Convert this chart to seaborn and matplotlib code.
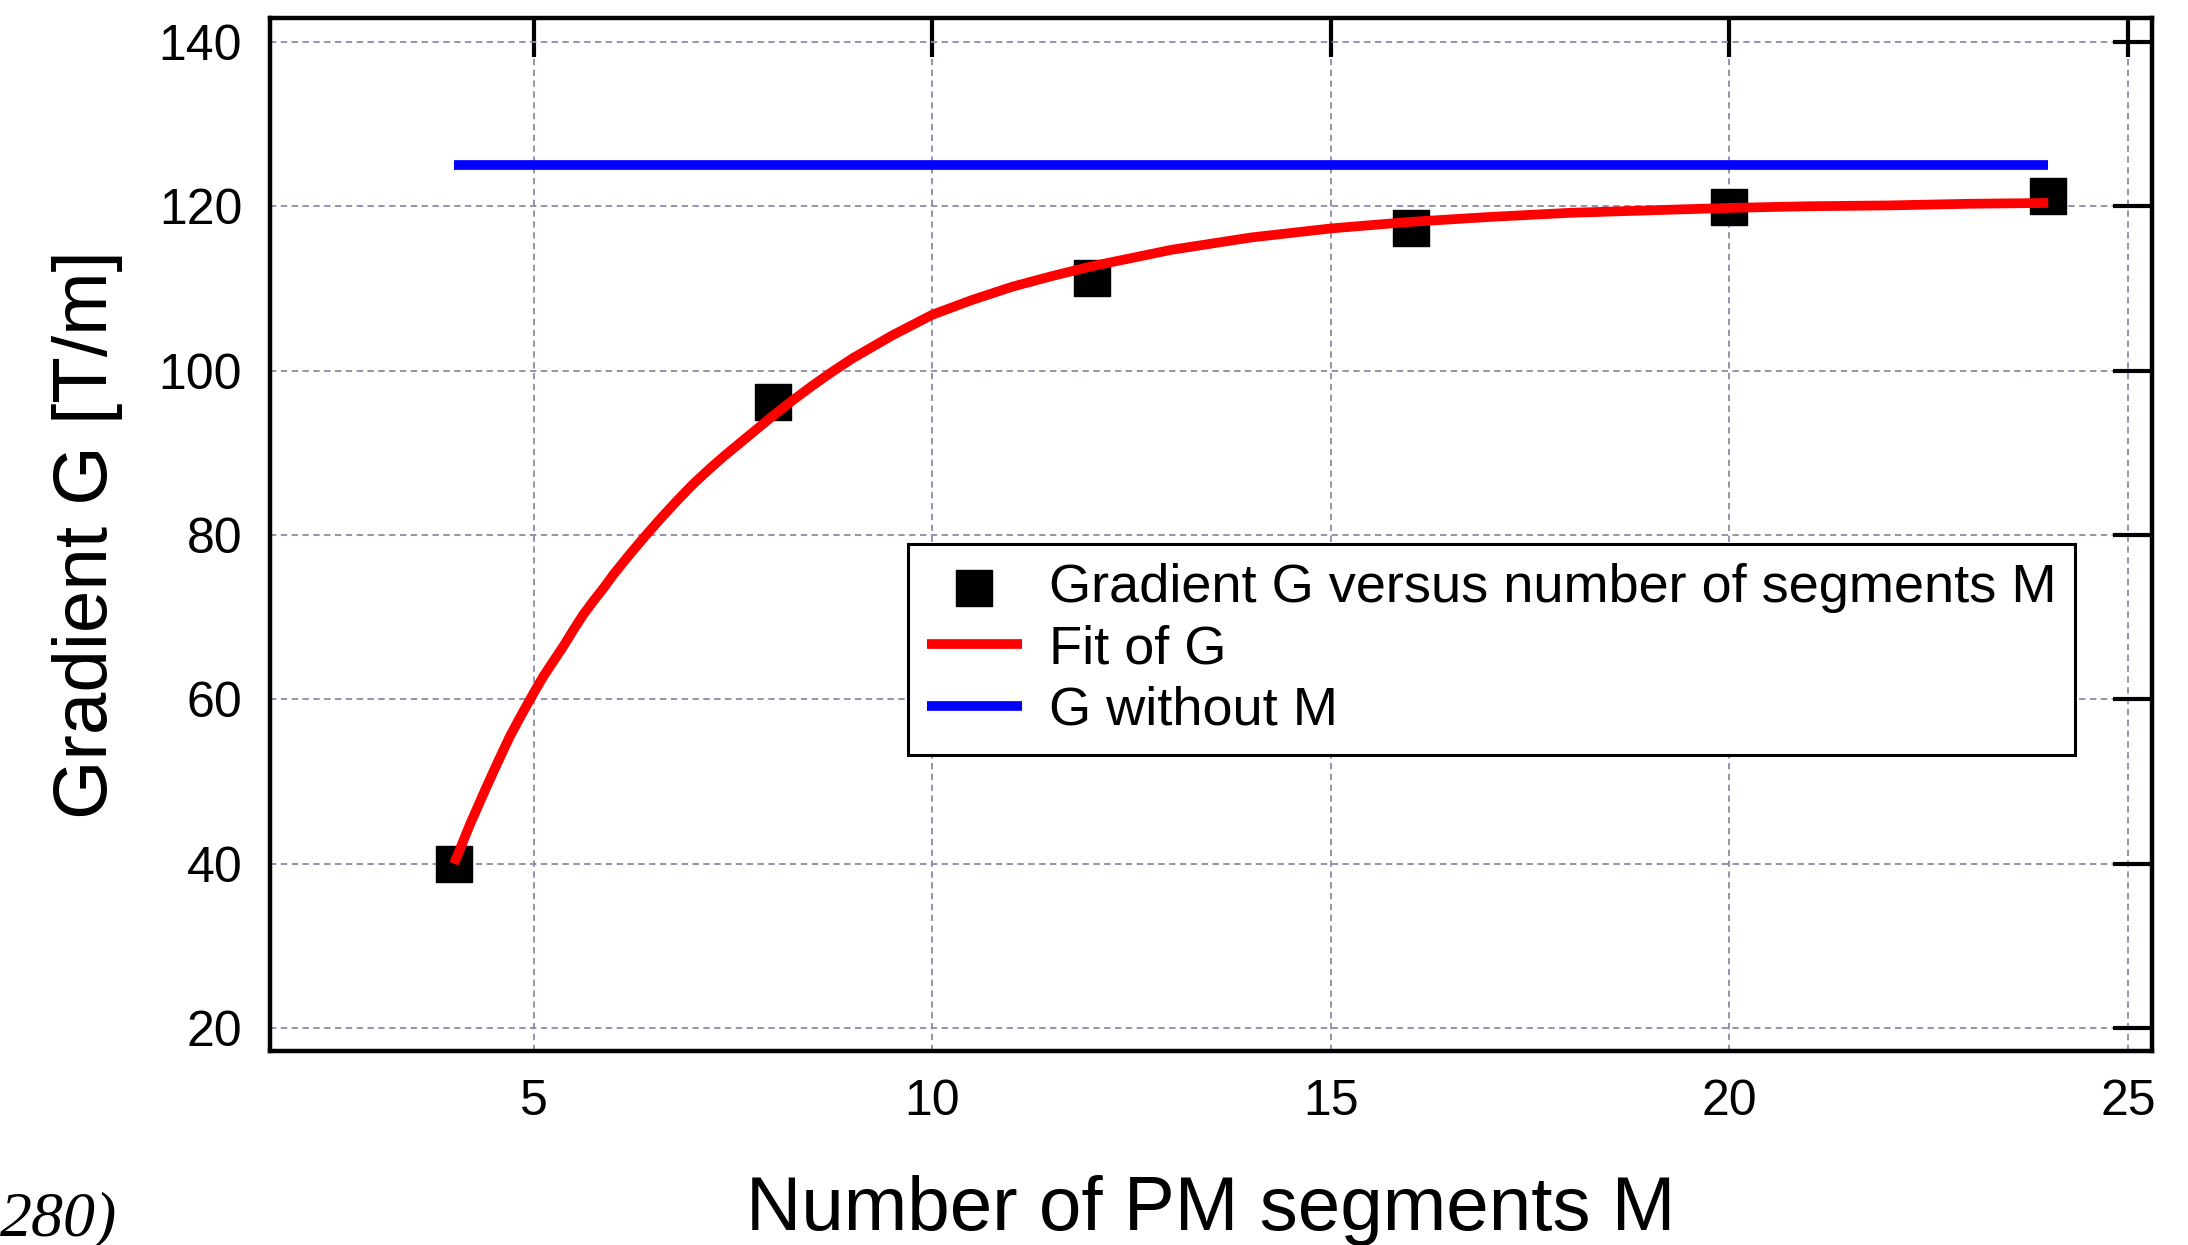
import matplotlib
matplotlib.use("Agg")
import matplotlib.pyplot as plt
import seaborn as sns

# ---------------- data ----------------
segments_m = [4, 8, 12, 16, 20, 24]
gradient_g = [40.0, 96.2, 111.3, 117.4, 119.9, 121.2]

fit_m = [4.0, 4.1, 4.2, 4.3, 4.4, 4.55, 4.7, 4.85, 5.0, 5.12, 5.25, 5.38, 5.5,
         5.62, 5.75, 5.88, 6.0, 6.2, 6.4, 6.6, 6.8, 7.0, 7.2, 7.4, 7.6, 7.8, 8.0,
         8.25, 8.5, 8.75, 9.0, 9.5, 10, 10.5, 11, 11.5, 12, 13, 14, 15, 16, 17,
         18, 19, 20, 21, 22, 23, 24]
fit_g = [40.0, 42.4, 44.8, 47.0, 49.2, 52.4, 55.5, 58.2, 60.8, 62.8, 64.7, 66.6,
         68.5, 70.3, 72.0, 73.6, 75.2, 77.6, 79.9, 82.1, 84.2, 86.2, 88.0, 89.7,
         91.3, 92.9, 94.5, 96.4, 98.2, 99.9, 101.5, 104.3, 106.8, 108.6, 110.2,
         111.5, 112.7, 114.7, 116.2, 117.3, 118.1, 118.7, 119.2, 119.5, 119.8,
         120.0, 120.1, 120.3, 120.4]

nominal_m = [4, 24]
nominal_g = [125, 125]

x_ticks = [5, 10, 15, 20, 25]
y_ticks = [20, 40, 60, 80, 100, 120, 140]

label_points = "Gradient G versus number of segments M"
label_fit = "Fit of G"
label_nominal = "G without M"
x_label = "Number of PM segments M"
y_label = "Gradient G [T/m]"

# ---------------- style ----------------
sns.set_style("white")
plt.rcParams["font.family"] = ["Liberation Sans", "DejaVu Sans"]
plt.rcParams["text.color"] = "black"
plt.rcParams["axes.labelcolor"] = "black"
plt.rcParams["xtick.color"] = "black"
plt.rcParams["ytick.color"] = "black"

fig = plt.figure(figsize=(21.88, 12.45), dpi=100)
ax = fig.add_axes([0.1234, 0.1558, 0.9835 - 0.1234, 0.9855 - 0.1558])

grid_kw = dict(color="#8a8aa8", linewidth=1.3, linestyle=(0, (3.5, 2.5)), zorder=0)
ax.set_axisbelow(True)

sns.scatterplot(x=segments_m, y=gradient_g, marker="s", s=26 ** 2, color="black",
                edgecolor="black", linewidth=1, label=label_points, ax=ax, zorder=3)
sns.lineplot(x=fit_m, y=fit_g, color="#ff0000", linewidth=7, label=label_fit,
             ax=ax, zorder=4, estimator=None, solid_capstyle="butt",
             solid_joinstyle="round")
sns.lineplot(x=nominal_m, y=nominal_g, color="#0000ff", linewidth=7,
             label=label_nominal, ax=ax, zorder=4, estimator=None,
             solid_capstyle="butt")

ax.set_xlim(1.69, 25.3)
ax.set_ylim(17.2, 142.9)
ax.set_xticks(x_ticks)
ax.set_yticks(y_ticks)
ax.grid(True, **grid_kw)

for sp in ax.spines.values():
    sp.set_visible(True)
    sp.set_linewidth(3.2)
    sp.set_color("black")

ax.tick_params(direction="in", length=28, width=3, top=True, right=True,
               labelsize=36, colors="black", labelcolor="black", pad=20)

ax.set_xlabel(x_label, fontsize=55, labelpad=36, color="black")
ax.set_ylabel(y_label, fontsize=55, labelpad=26, color="black")

handles, labels = ax.get_legend_handles_labels()
order = [labels.index(label_points), labels.index(label_fit), labels.index(label_nominal)]
leg = ax.legend([handles[i] for i in order], [labels[i] for i in order],
                loc="upper left", bbox_to_anchor=(0.339, 0.491), borderaxespad=0,
                fontsize=39, frameon=True, fancybox=False, shadow=False,
                handlelength=1.75, handletextpad=0.5, labelspacing=0.21,
                borderpad=0.35, markerscale=1.0)
leg.get_frame().set_edgecolor("black")
leg.get_frame().set_linewidth(2.2)
leg.get_frame().set_alpha(1)
for t in leg.get_texts():
    t.set_color("black")

# caption fragment at the bottom-left corner of the original image
fig.text(0.0, 0.008, "280)", fontsize=46, style="italic", color="black",
         family=["Liberation Serif", "DejaVu Serif"], ha="left", va="baseline")

fig.savefig("out.png", dpi=100)
